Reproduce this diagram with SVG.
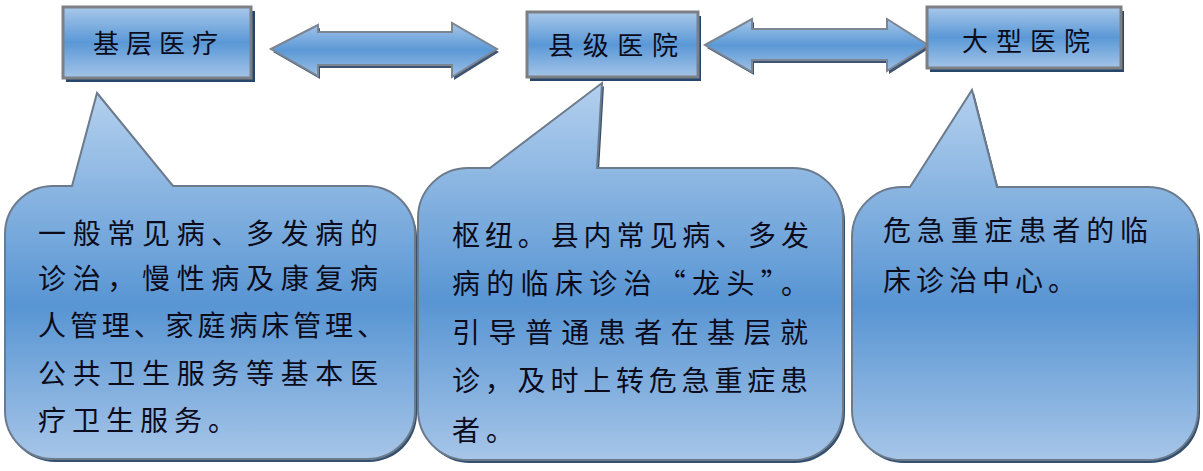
<svg xmlns="http://www.w3.org/2000/svg" width="1203" height="471" viewBox="0 0 1203 471">
<defs>
<linearGradient id="gBox" x1="0" y1="0" x2="0" y2="1">
<stop offset="0" stop-color="#a9c8ea"/>
<stop offset="0.5" stop-color="#5a98d6"/>
<stop offset="1" stop-color="#a4c4e8"/>
</linearGradient>
<linearGradient id="gArrow" x1="0" y1="0" x2="0" y2="1">
<stop offset="0" stop-color="#a6c6e9"/>
<stop offset="0.5" stop-color="#5b99d6"/>
<stop offset="1" stop-color="#9fc0e6"/>
</linearGradient>
<linearGradient id="gCall" x1="0" y1="0" x2="0" y2="1">
<stop offset="0" stop-color="#b4d0ee"/>
<stop offset="0.58" stop-color="#5895d3"/>
<stop offset="1" stop-color="#a6c5e8"/>
</linearGradient>
</defs>
<style>
.box{fill:url(#gBox);stroke:#7c7f83;stroke-width:3}
.boxsh{fill:#27466b}
.arrow{fill:url(#gArrow);stroke:#7b8593;stroke-width:2;stroke-linejoin:miter}
.arrsh{fill:#3d5573}
.call{fill:url(#gCall);stroke:#6c7b8c;stroke-width:2}
.callsh{fill:#34506f}
.t{font-family:"Noto Sans CJK SC","Noto Sans CJK TC",sans-serif;fill:#0b0b1c;font-size:28px}
.h{font-size:26px}
</style>

<g id="connectors">
<path class="arrsh" transform="translate(2,3)" d="M271,49 L318,25 L318,32 L452,32 L452,23 L497,49 L452,77 L452,65 L318,65 L318,76 Z"/>
<path class="arrow" d="M271,49 L318,25 L318,32 L452,32 L452,23 L497,49 L452,77 L452,65 L318,65 L318,76 Z"/>
<path class="arrsh" transform="translate(2,3)" d="M705,45 L752,19 L752,29 L887,29 L887,19 L928,45 L887,71 L887,60 L752,60 L752,72 Z"/>
<path class="arrow" d="M705,45 L752,19 L752,29 L887,29 L887,19 L928,45 L887,71 L887,60 L752,60 L752,72 Z"/>
</g>

<g id="node-jiceng">
<rect class="boxsh" x="66" y="11" width="189" height="71"/>
<rect class="box" x="63" y="7" width="188" height="71"/>
<text class="t h" x="93" y="53" textLength="125" lengthAdjust="spacing">基层医疗</text>
</g>

<g id="node-xianji">
<rect class="boxsh" x="530" y="16" width="171" height="65"/>
<rect class="box" x="527" y="12" width="171" height="65"/>
<text class="t h" x="548" y="55" textLength="130" lengthAdjust="spacing">县级医院</text>
</g>

<g id="node-daxing">
<rect class="boxsh" x="930" y="11" width="194" height="61"/>
<rect class="box" x="927" y="7" width="194" height="61"/>
<text class="t h" x="962" y="51" textLength="128" lengthAdjust="spacing">大型医院</text>
</g>

<g id="callout-jiceng">
<path class="callsh" transform="translate(2,3)" d="M53,186 L72,186 L97,93 L173,186 L367,186 A48,48 0 0 1 415,234 L415,411 A48,48 0 0 1 367,459 L53,459 A48,48 0 0 1 5,411 L5,234 A48,48 0 0 1 53,186 Z"/>
<path class="call" d="M53,186 L72,186 L97,93 L173,186 L367,186 A48,48 0 0 1 415,234 L415,411 A48,48 0 0 1 367,459 L53,459 A48,48 0 0 1 5,411 L5,234 A48,48 0 0 1 53,186 Z"/>
<text class="t" x="38" y="244" textLength="340" lengthAdjust="spacing">一般常见病、多发病的</text>
<text class="t" x="38" y="289" textLength="340" lengthAdjust="spacing">诊治，慢性病及康复病</text>
<text class="t" x="38" y="336" textLength="347" lengthAdjust="spacing">人管理、家庭病床管理、</text>
<text class="t" x="38" y="384" textLength="340" lengthAdjust="spacing">公共卫生服务等基本医</text>
<text class="t" x="38" y="431" letter-spacing="6">疗卫生服务。</text>
</g>

<g id="callout-xianji">
<path class="callsh" transform="translate(2,3)" d="M468,168 L490,168 L602,83 L597,168 L793,168 A50,50 0 0 1 843,218 L843,410 A50,50 0 0 1 793,460 L468,460 A50,50 0 0 1 418,410 L418,218 A50,50 0 0 1 468,168 Z"/>
<path class="call" d="M468,168 L490,168 L602,83 L597,168 L793,168 A50,50 0 0 1 843,218 L843,410 A50,50 0 0 1 793,460 L468,460 A50,50 0 0 1 418,410 L418,218 A50,50 0 0 1 468,168 Z"/>
<text class="t" x="452" y="246" textLength="357" lengthAdjust="spacing">枢纽。县内常见病、多发</text>
<text class="t" x="452" y="294" textLength="357" lengthAdjust="spacing">病的临床诊治“龙头”。</text>
<text class="t" x="452" y="343" textLength="356" lengthAdjust="spacing">引导普通患者在基层就</text>
<text class="t" x="452" y="391" textLength="356" lengthAdjust="spacing">诊，及时上转危急重症患</text>
<text class="t" x="452" y="441" letter-spacing="6">者。</text>
</g>

<g id="callout-daxing">
<path class="callsh" transform="translate(2,3)" d="M902,187 L910,187 L972,90 L997,187 L1148,187 A50,50 0 0 1 1198,237 L1198,410 A50,50 0 0 1 1148,460 L902,460 A50,50 0 0 1 852,410 L852,237 A50,50 0 0 1 902,187 Z"/>
<path class="call" d="M902,187 L910,187 L972,90 L997,187 L1148,187 A50,50 0 0 1 1198,237 L1198,410 A50,50 0 0 1 1148,460 L902,460 A50,50 0 0 1 852,410 L852,237 A50,50 0 0 1 902,187 Z"/>
<text class="t" x="883" y="241" textLength="265" lengthAdjust="spacing">危急重症患者的临</text>
<text class="t" x="883" y="291" letter-spacing="5">床诊治中心。</text>
</g>
</svg>
